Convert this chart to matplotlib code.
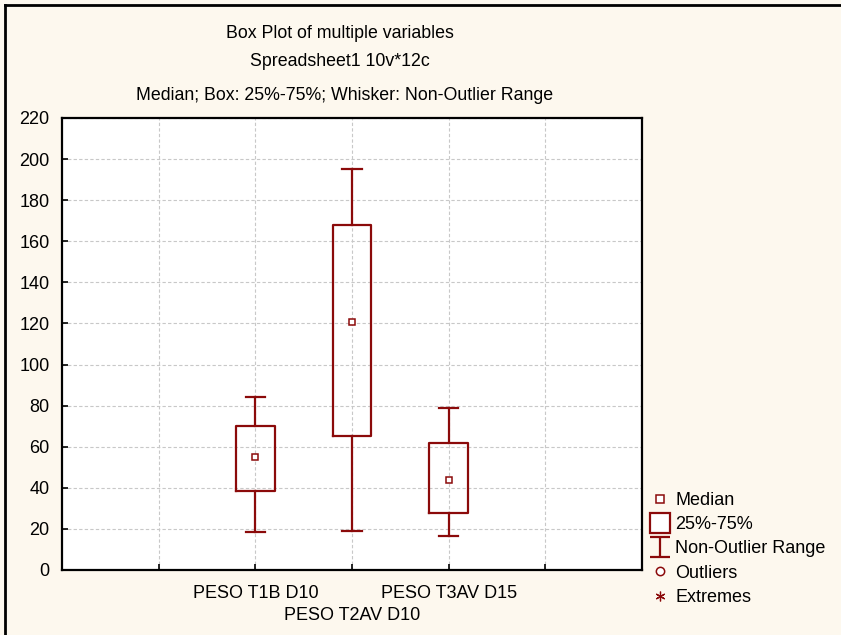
import numpy as np
import matplotlib.pyplot as plt
import matplotlib.transforms as mtransforms
from matplotlib.lines import Line2D
from matplotlib.path import Path

plt.rcParams['font.family'] = ['Liberation Sans', 'DejaVu Sans']

# Summary statistics per variable (median, quartiles, non-outlier range)
variables = ['PESO T1B D10', 'PESO T2AV D10', 'PESO T3AV D15']
positions = [2, 3, 4]
medians = [55.1, 120.7, 44.0]
q1 = [38.6, 65.4, 27.9]
q3 = [70.2, 167.9, 61.8]
whisk_lo = [18.3, 19.0, 16.4]
whisk_hi = [84.3, 195.2, 78.7]

red = '#8b0a0a'
bg = '#fdf8ee'

fig = plt.figure(figsize=(8.41, 6.35), dpi=100, facecolor=bg)
ax = fig.add_axes([62 / 841, 1 - 570 / 635, 580 / 841, 452 / 635])
ax.set_facecolor('white')

stats = []
for i in range(len(variables)):
    stats.append({'med': medians[i], 'q1': q1[i], 'q3': q3[i],
                  'whislo': whisk_lo[i], 'whishi': whisk_hi[i],
                  'fliers': [], 'label': variables[i]})

ax.bxp(stats, positions=positions, widths=0.4, showfliers=False,
       boxprops=dict(color=red, linewidth=1.6),
       whiskerprops=dict(color=red, linewidth=1.6),
       capprops=dict(color=red, linewidth=1.6),
       medianprops=dict(linewidth=0), capwidths=0.2, zorder=3)
ax.plot(positions, medians, 's', ms=5, mfc='white', mec=red, mew=1.1,
        linestyle='none', zorder=4)

ax.set_xlim(0, 6)
ax.set_ylim(0, 220)
ax.set_yticks(np.arange(0, 221, 20))
ax.set_xticks([1, 2, 3, 4, 5])
ax.set_xticklabels(['', variables[0], variables[1], variables[2], ''])
ax.grid(True, color='#c8c8c8', linestyle=(0, (3, 2)), linewidth=0.8, zorder=0)
ax.tick_params(direction='in', length=4, width=1.2, labelsize=13,
               colors='black')
ax.tick_params(axis='x', pad=11)
ax.tick_params(axis='y', pad=9)
for s in ax.spines.values():
    s.set_linewidth(1.6)

# middle label sits one row lower so the names do not collide
mid = ax.get_xticklabels()[2]
mid.set_transform(mid.get_transform() +
                  mtransforms.ScaledTranslation(0, -22 / 100, fig.dpi_scale_trans))

# Titles
fig.text(340 / 841, 1 - 33 / 635, 'Box Plot of multiple variables',
         ha='center', va='center', fontsize=12.8)
fig.text(340 / 841, 1 - 62 / 635, 'Spreadsheet1 10v*12c',
         ha='center', va='center', fontsize=12.8)
fig.text(345 / 841, 1 - 95 / 635,
         'Median; Box: 25%-75%; Whisker: Non-Outlier Range',
         ha='center', va='center', fontsize=12.8)

# Legend symbols
ibeam = Path([(-1, 1), (1, 1), (0, 1), (0, -1), (-1, -1), (1, -1)],
             [Path.MOVETO, Path.LINETO, Path.MOVETO, Path.LINETO,
              Path.MOVETO, Path.LINETO])
handles = [
    Line2D([], [], marker='s', ms=6, mfc='white', mec=red, mew=1.1, ls='none'),
    Line2D([], [], marker='s', ms=15, mfc='white', mec=red, mew=1.6, ls='none'),
    Line2D([], [], marker=ibeam, ms=15, mec=red, mew=1.6, ls='none'),
    Line2D([], [], marker='o', ms=6, mfc='white', mec=red, mew=1.1, ls='none'),
    Line2D([], [], marker=(6, 2, 0), ms=7, mec=red, mew=0.9, ls='none'),
]
labels = ['Median', '25%-75%', 'Non-Outlier Range', 'Outliers', 'Extremes']
fig.legend(handles, labels, loc='upper left',
           bbox_to_anchor=(642 / 841, 1 - 483 / 635), frameon=False,
           fontsize=13, handlelength=1.0, handletextpad=0.35,
           labelspacing=0.4, borderpad=0)

# Outer frame lines on the left and top
fig.add_artist(Line2D([5 / 841, 5 / 841], [0, 1 - 5 / 635], color='black',
                      lw=2, transform=fig.transFigure))
fig.add_artist(Line2D([5 / 841, 1], [1 - 5 / 635, 1 - 5 / 635], color='black',
                      lw=2, transform=fig.transFigure))

fig.savefig('out.png', dpi=100, facecolor=bg)
